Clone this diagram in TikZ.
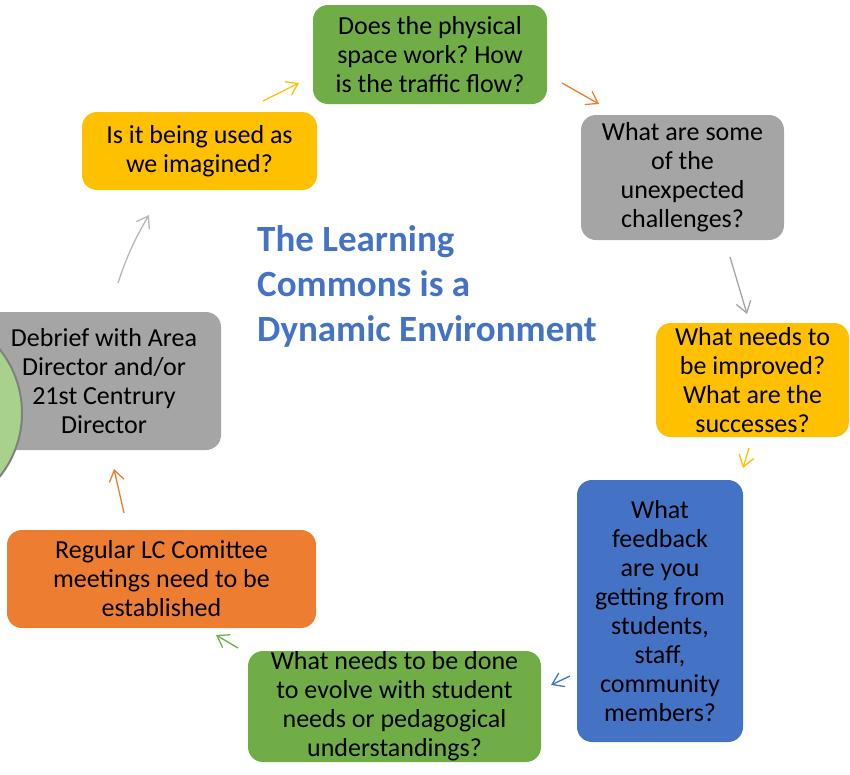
\documentclass[tikz,border=0pt]{standalone}
\usepackage{fontspec}
\setmainfont{Carlito}
\usetikzlibrary{arrows.meta}
\frenchspacing

\definecolor{lcgreen}{HTML}{70AD47}
\definecolor{lcyellow}{HTML}{FFC000}
\definecolor{lcgray}{HTML}{A5A5A5}
\definecolor{lcblue}{HTML}{4472C4}
\definecolor{lcorange}{HTML}{ED7D31}
\definecolor{lclight}{HTML}{A9D18E}

\tikzset{
  qbox/.style={rounded corners=15pt, align=center, inner sep=0pt,
    font=\fontsize{26}{29}\selectfont},
  cyc/.style={-{Straight Barb[length=11pt,width=15pt]}, line width=1.3pt}
}

\begin{document}
\begin{tikzpicture}[x=1pt, y=-1pt]
        \useasboundingbox (0,0) rectangle (850,774);

        \node[qbox, fill=lcgreen, minimum width=234pt, minimum height=99pt] (space) at (430,54.5)
          {Does the physical\\space work? How\\is the traffic flow?};
        \node[qbox, fill=lcgray, minimum width=203pt, minimum height=125pt] (challenge) at (682.5,177.5)
          {What are some\\of the\\unexpected\\challenges?};
        \node[qbox, fill=lcyellow, minimum width=193pt, minimum height=114pt] (improve) at (752.5,380)
          {What needs to\\be improved?\\What are the\\successes?};
        \node[qbox, fill=lcblue, minimum width=166pt, minimum height=262pt] (feedback) at (660,611)
          {What\\feedback\\are you\\getting from\\students,\\staff,\\community\\members?};
        \node[qbox, fill=lcgreen, minimum width=293pt, minimum height=111pt] (evolve) at (394.5,706.5)
          {What needs to be done\\to evolve with student\\needs or pedagogical\\understandings?};
        \node[qbox, fill=lcorange, minimum width=309pt, minimum height=98pt] (meetings) at (161.5,579)
          {Regular LC Comittee\\meetings need to be\\established};
        \node[qbox, fill=lcgray, minimum width=234pt, minimum height=138pt] (debrief) at (104,381)
          {Debrief with Area\\Director and/or\\21st Centrury\\Director};
        \node[qbox, fill=lcyellow, minimum width=235pt, minimum height=78pt] (used) at (199.5,151)
          {Is it being used as\\we imagined?};

        % circle on the left edge, over the debrief box
        \filldraw[fill=lclight, draw=gray, line width=2pt] (-80,413) circle (102);

        \node[align=left, inner sep=0pt, anchor=west, text=lcblue,
          font=\bfseries\fontsize{37}{45}\selectfont] (title) at (257,286)
          {The Learning\\Commons is a\\Dynamic Environment};

        % arrow ends
        \coordinate (a1s) at (263,101);  \coordinate (a1e) at (299,83);
        \coordinate (a2s) at (562,83);   \coordinate (a2e) at (599,104);
        \coordinate (a3s) at (730,257);  \coordinate (a3e) at (747,314);
        \coordinate (a4s) at (749,448);  \coordinate (a4e) at (743,468);
        \coordinate (a5s) at (570,676);  \coordinate (a5e) at (551,685);
        \coordinate (a6s) at (238,648);  \coordinate (a6e) at (216,635);
        \coordinate (a7s) at (124,513);  \coordinate (a7e) at (114,469);
        \coordinate (a8s) at (118,283);  \coordinate (a8e) at (149,215);

        \draw[cyc, lcyellow] (a1s) -- (a1e);
        \draw[cyc, lcorange] (a2s) -- (a2e);
        \draw[cyc, lcgray] (a3s) -- (a3e);
        \draw[cyc, lcyellow] (a4s) -- (a4e);
        \draw[cyc, lcblue] (a5s) -- (a5e);
        \draw[cyc, lcgreen] (a6s) -- (a6e);
        \draw[cyc, lcorange] (a7s) -- (a7e);
        \draw[cyc, lcgray!80] (a8s) to[bend left=6] (a8e);
\end{tikzpicture}
\end{document}
